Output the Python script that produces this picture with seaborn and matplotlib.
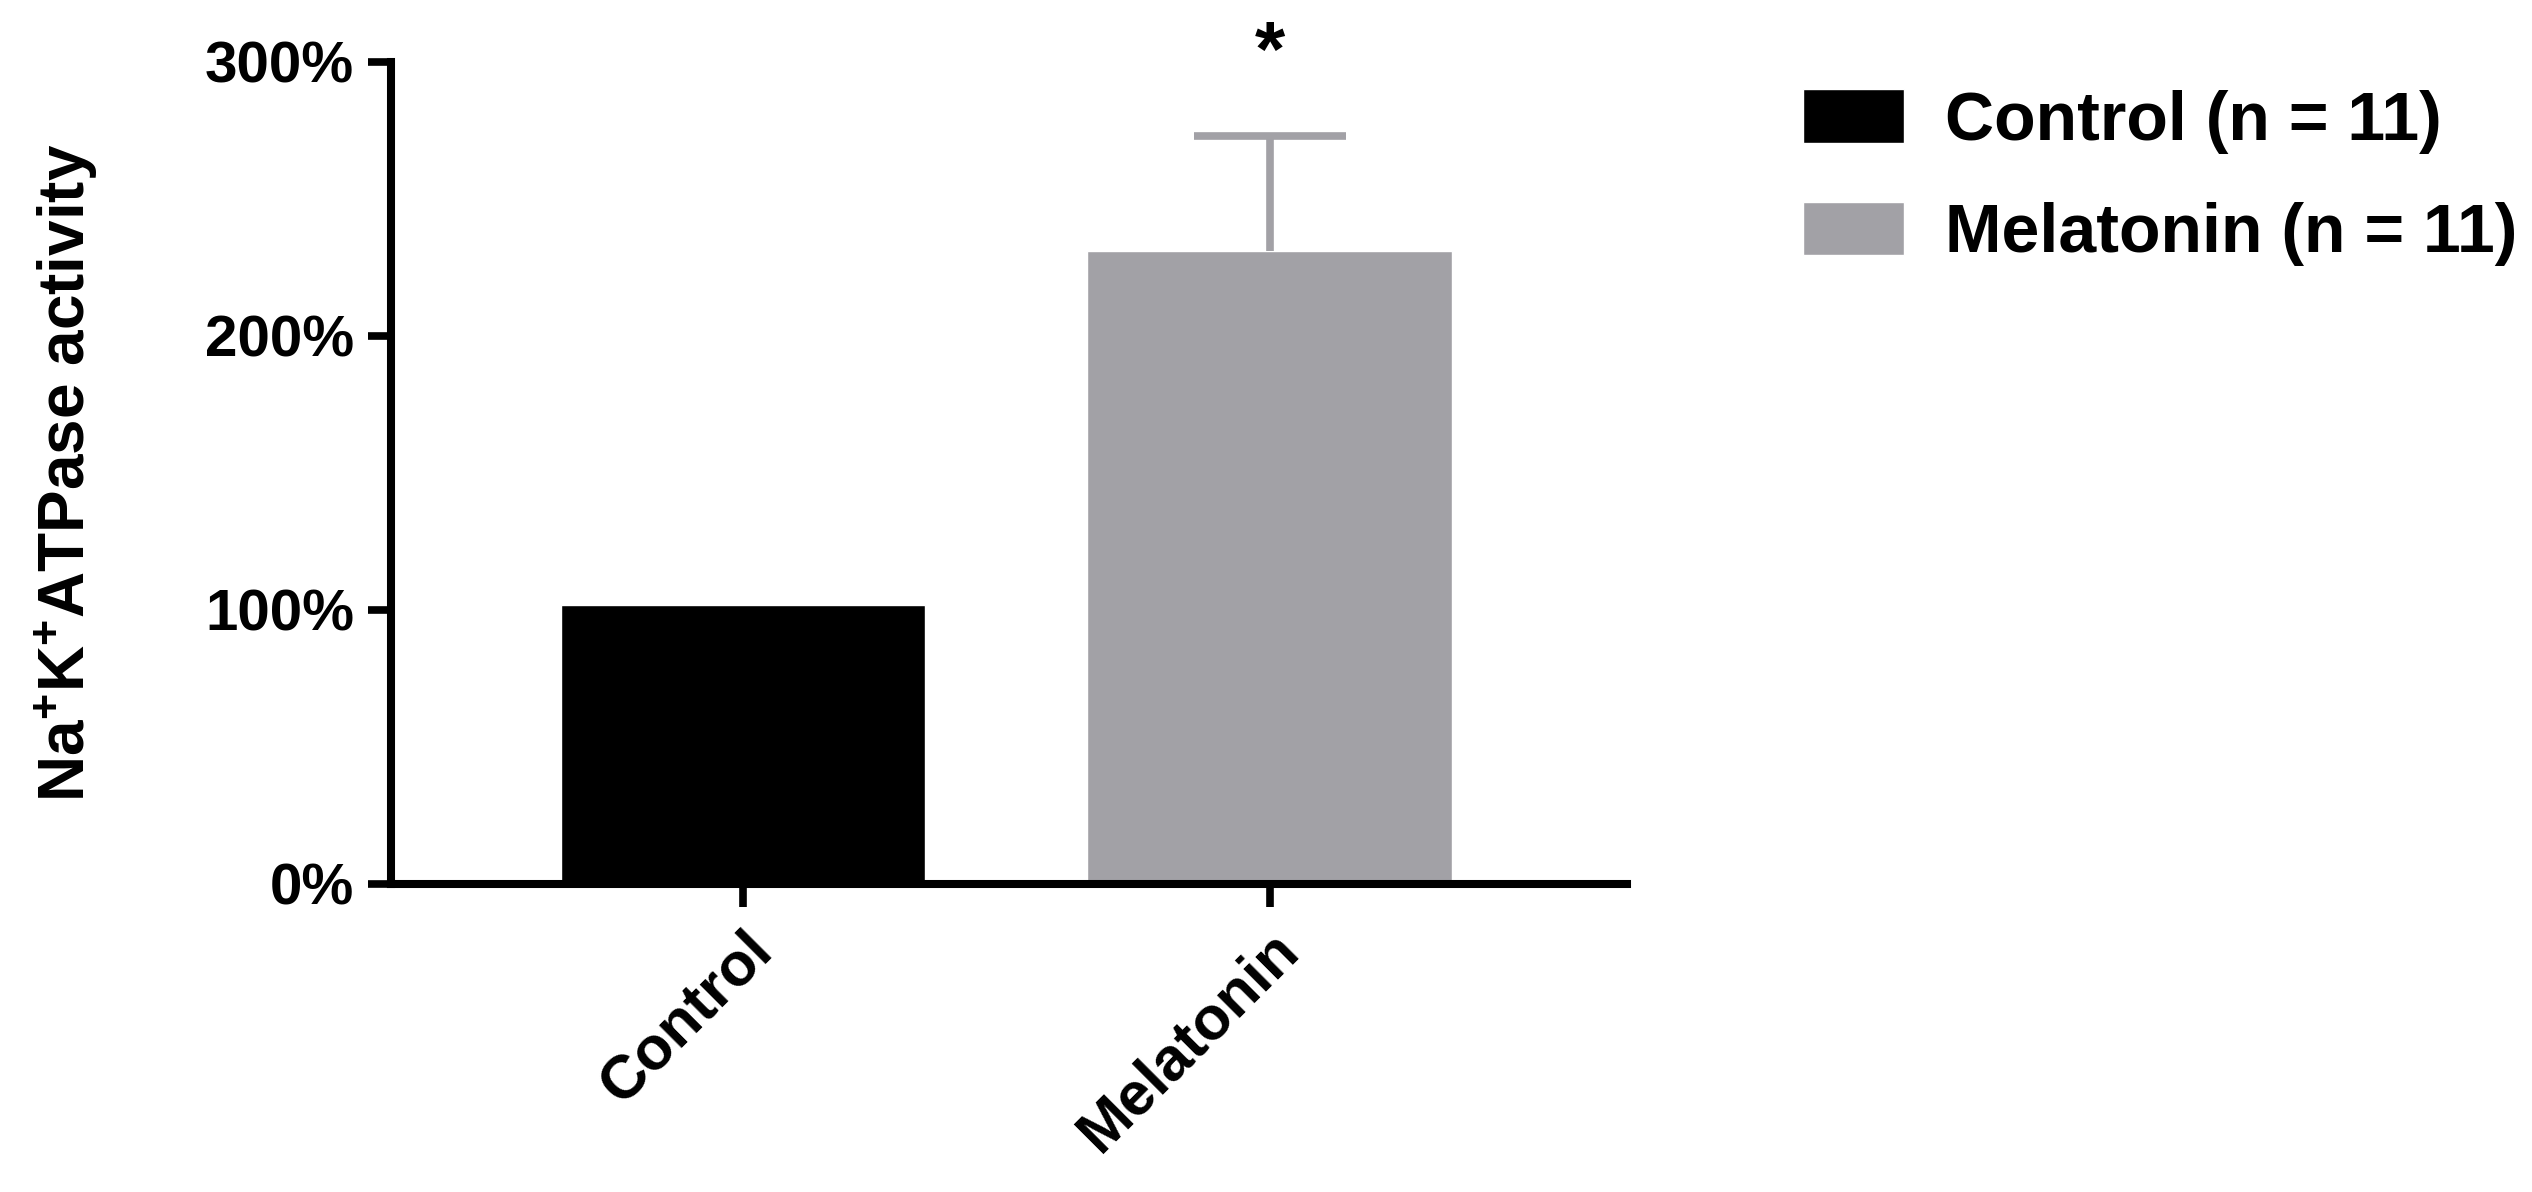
import matplotlib
matplotlib.use('Agg')
import matplotlib.pyplot as plt
import seaborn as sns
import pandas as pd
from matplotlib.ticker import PercentFormatter

# values (percent of control)
groups = ['Control', 'Melatonin']
activity = [102, 231]
sem_upper = [0, 42]
legend_labels = ['Control (n = 11)', 'Melatonin (n = 11)']
bar_colors = ['#000000', '#a2a1a6']
y_ticks = [0, 100, 200, 300]
star_group = 'Melatonin'
star_y = 295


def main():
    df = pd.DataFrame({'group': groups, 'activity': activity, 'sem': sem_upper})

    sns.set_style('ticks')
    plt.rcParams['font.family'] = ['Liberation Sans', 'DejaVu Sans']
    plt.rcParams['font.weight'] = 'bold'
    plt.rcParams['text.color'] = 'black'
    plt.rcParams['axes.labelcolor'] = 'black'
    plt.rcParams['axes.edgecolor'] = 'black'
    plt.rcParams['xtick.color'] = 'black'
    plt.rcParams['ytick.color'] = 'black'
    plt.rcParams['mathtext.fontset'] = 'custom'
    plt.rcParams['mathtext.bf'] = 'Liberation Sans:bold'
    plt.rcParams['mathtext.rm'] = 'Liberation Sans:bold'
    plt.rcParams['mathtext.default'] = 'bf'

    fig = plt.figure(figsize=(25.32, 11.92), dpi=100)
    ax = fig.add_axes([0.1544, 0.2584, 0.4882, 0.6896])

    sns.barplot(data=df, x='group', y='activity', hue='group', palette=bar_colors,
                width=0.693, errorbar=None, legend=False, saturation=1, ax=ax)

    # upper error bar only, as in the original
    i = groups.index('Melatonin')
    eb = ax.errorbar(i, activity[i], yerr=[[0], [sem_upper[i]]], fmt='none',
                     ecolor=bar_colors[i], elinewidth=5.5, capsize=55, capthick=5.5)
    eb[1][0].set_visible(False)  # no lower cap

    ax.text(groups.index(star_group), star_y, '*', ha='center', va='baseline',
            fontsize=56, fontweight='bold', clip_on=False)

    ax.set_xlim(-0.6686, 1.679)
    ax.set_ylim(0, 300)
    ax.set_yticks(y_ticks)
    ax.yaxis.set_major_formatter(PercentFormatter(xmax=100, decimals=0))

    sns.despine(ax=ax)
    for s in ['left', 'bottom']:
        ax.spines[s].set_linewidth(5.8)
        ax.spines[s].set_color('black')
    ax.tick_params(axis='both', width=5.5, length=16.5, labelsize=42, pad=10, color='black',
                   labelcolor='black')
    for lab in ax.get_yticklabels():
        lab.set_fontweight('bold')
    ax.set_xticks(range(len(groups)))
    ax.set_xticklabels(groups, rotation=45, ha='right', va='top', rotation_mode='anchor',
                       fontsize=44, fontweight='bold')

    ax.set_xlabel('')
    ax.set_ylabel('Na$^{+}$K$^{+}$ATPase activity', fontsize=46, fontweight='bold')
    ax.yaxis.set_label_coords(-0.2346, 0.5)

    handles = [ax.patches[0], ax.patches[1]]
    fig.legend(handles, legend_labels, loc='upper left', bbox_to_anchor=(0.7121, 0.925),
               frameon=False, handlelength=1.485, handleheight=0.84,
               handletextpad=0.6, labelspacing=0.7, borderpad=0, borderaxespad=0,
               prop={'weight': 'bold', 'size': 49})

    fig.savefig('out.png', dpi=100)


if __name__ == '__main__':
    main()
